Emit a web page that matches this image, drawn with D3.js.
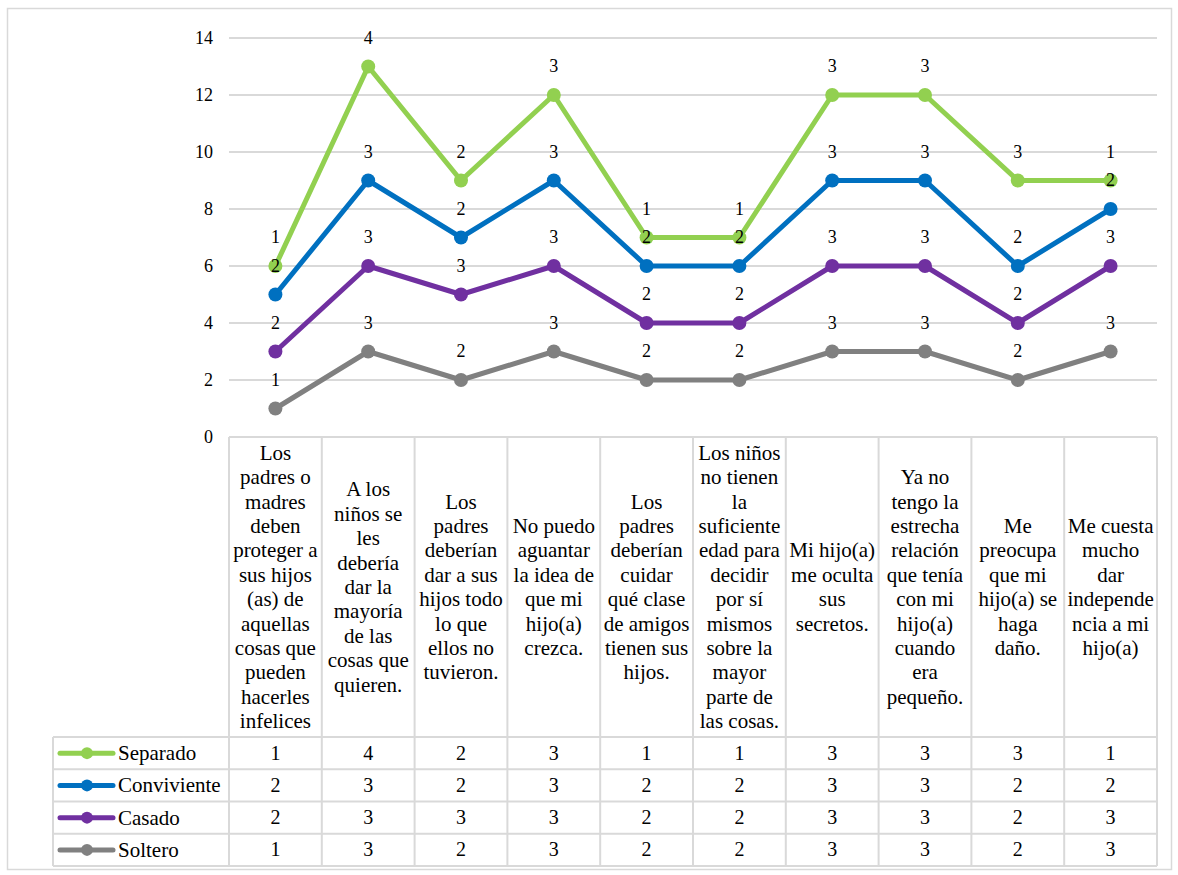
<!DOCTYPE html>
<html>
<head>
<meta charset="utf-8">
<script src="https://cdn.jsdelivr.net/npm/d3@7"></script>
<style>
  html, body { margin: 0; padding: 0; background: #fff; }
  svg { display: block; }
  svg text { font-family: 'Liberation Serif', 'Times New Roman', Times, 'DejaVu Serif', serif; }
</style>
</head>
<body>
<svg id="chart" width="1178" height="875"></svg>
<script>
// Statements (each entry is the wrapped set of lines shown in the header cell)
const categories = [
  ["Los", "padres o", "madres", "deben", "proteger a", "sus hijos", "(as) de", "aquellas", "cosas que", "pueden", "hacerles", "infelices"],
  ["A los", "niños se", "les", "debería", "dar la", "mayoría", "de las", "cosas que", "quieren."],
  ["Los", "padres", "deberían", "dar a sus", "hijos todo", "lo que", "ellos no", "tuvieron."],
  ["No puedo", "aguantar", "la idea de", "que mi", "hijo(a)", "crezca."],
  ["Los", "padres", "deberían", "cuidar", "qué clase", "de amigos", "tienen sus", "hijos."],
  ["Los niños", "no tienen", "la", "suficiente", "edad para", "decidir", "por sí", "mismos", "sobre la", "mayor", "parte de", "las cosas."],
  ["Mi hijo(a)", "me oculta", "sus", "secretos."],
  ["Ya no", "tengo la", "estrecha", "relación", "que tenía", "con mi", "hijo(a)", "cuando", "era", "pequeño."],
  ["Me", "preocupa", "que mi", "hijo(a) se", "haga", "daño."],
  ["Me cuesta", "mucho", "dar", "independe", "ncia a mi", "hijo(a)"]
];

// Series values, stacked from bottom (Soltero) to top (Separado)
const soltero     = [1, 3, 2, 3, 2, 2, 3, 3, 2, 3];
const casado      = [2, 3, 3, 3, 2, 2, 3, 3, 2, 3];
const conviviente = [2, 3, 2, 3, 2, 2, 3, 3, 2, 2];
const separado    = [1, 4, 2, 3, 1, 1, 3, 3, 3, 1];

const seriesNames  = ["Soltero", "Casado", "Conviviente", "Separado"];
const seriesColors = ["#808080", "#7030A0", "#0070C0", "#92D050"];
const yTicks = [0, 2, 4, 6, 8, 10, 12, 14];

const seriesValues = [soltero, casado, conviviente, separado];

const FONT = "'Liberation Serif', 'Times New Roman', Times, serif";
const svg = d3.select("#chart").attr("font-family", FONT);
const gridColor = "#d9d9d9";

// Outer frame
svg.append("rect")
  .attr("x", 7.5).attr("y", 8.5).attr("width", 1164).attr("height", 861)
  .attr("fill", "#fff").attr("stroke", gridColor).attr("stroke-width", 1.5);

const plotLeft = 229, plotRight = 1157, plotTop = 38, plotBottom = 437;
const idx = d3.range(categories.length);

const x = d3.scaleBand().domain(idx).range([plotLeft, plotRight]).padding(0);
const y = d3.scaleLinear().domain([0, 14]).range([plotBottom, plotTop]);

// Stack the series
const stackInput = idx.map(i => {
  const o = {};
  seriesNames.forEach((n, s) => { o[n] = seriesValues[s][i]; });
  return o;
});
const stacked = d3.stack().keys(seriesNames)(stackInput);

// Horizontal gridlines
svg.append("g")
  .selectAll("line")
  .data(yTicks.filter(t => t > 0))
  .join("line")
  .attr("x1", plotLeft).attr("x2", plotRight)
  .attr("y1", d => y(d)).attr("y2", d => y(d))
  .attr("stroke", gridColor).attr("stroke-width", 2);

// Y axis labels
const yAxis = d3.axisLeft(y).tickValues(yTicks).tickSize(0).tickPadding(0);
const yg = svg.append("g").attr("transform", `translate(${plotLeft - 16},0)`).call(yAxis);
yg.attr("font-family", FONT).attr("font-size", 18);
yg.select(".domain").remove();
yg.selectAll("text").attr("fill", "#000");

// Lines and markers
const line = d3.line()
  .x((d, i) => x(i) + x.bandwidth() / 2)
  .y(d => y(d[1]));

const layerOrder = [3, 2, 1, 0];
layerOrder.forEach(s => {
  const layer = stacked[s];
  const g = svg.append("g");
  g.append("path")
    .datum(layer)
    .attr("d", line)
    .attr("fill", "none")
    .attr("stroke", seriesColors[s])
    .attr("stroke-width", 5)
    .attr("stroke-linejoin", "round");
  g.selectAll("circle")
    .data(layer)
    .join("circle")
    .attr("cx", (d, i) => x(i) + x.bandwidth() / 2)
    .attr("cy", d => y(d[1]))
    .attr("r", 7)
    .attr("fill", seriesColors[s]);
});

// Data labels (the individual value of each series, above its point)
layerOrder.forEach(s => {
  svg.append("g")
    .selectAll("text")
    .data(stacked[s])
    .join("text")
    .attr("x", (d, i) => x(i) + x.bandwidth() / 2)
    .attr("y", d => y(d[1]) - 29)
    .attr("dy", "0.35em")
    .attr("text-anchor", "middle")
    .attr("font-size", 18)
    .attr("fill", "#000")
    .text((d, i) => seriesValues[s][i]);
});

// Data table
const headerTop = plotBottom, headerBottom = 737;
const rowH = 32.25;
const legendLeft = 53;
const tableBottom = headerBottom + rowH * 4;

const tg = svg.append("g");
// Column separators
const colEdges = idx.map(i => x(i)).concat([plotRight]);
tg.selectAll("line.col")
  .data(colEdges)
  .join("line")
  .attr("class", "col")
  .attr("x1", d => d).attr("x2", d => d)
  .attr("y1", headerTop).attr("y2", tableBottom)
  .attr("stroke", gridColor).attr("stroke-width", 2);
// Header top line
tg.append("line")
  .attr("x1", plotLeft).attr("x2", plotRight)
  .attr("y1", headerTop).attr("y2", headerTop)
  .attr("stroke", gridColor).attr("stroke-width", 2);
// Row lines
tg.selectAll("line.row")
  .data(d3.range(5))
  .join("line")
  .attr("class", "row")
  .attr("x1", legendLeft).attr("x2", plotRight)
  .attr("y1", r => headerBottom + r * rowH).attr("y2", r => headerBottom + r * rowH)
  .attr("stroke", gridColor).attr("stroke-width", 2);
// Left border of legend column
tg.append("line")
  .attr("x1", legendLeft).attr("x2", legendLeft)
  .attr("y1", headerBottom).attr("y2", tableBottom)
  .attr("stroke", gridColor).attr("stroke-width", 2);

// Header category texts (vertically centred)
const lineH = 24.4;
const headerMid = (headerTop + headerBottom) / 2;
categories.forEach((lines, i) => {
  const cx = x(i) + x.bandwidth() / 2;
  const startY = headerMid - (lines.length - 1) * lineH / 2;
  const t = tg.append("text")
    .attr("text-anchor", "middle")
    .attr("font-size", 21)
    .attr("fill", "#000");
  t.selectAll("tspan")
    .data(lines)
    .join("tspan")
    .attr("x", cx)
    .attr("y", (d, k) => startY + k * lineH)
    .attr("dy", "0.33em")
    .text(d => d);
});

// Table rows: Separado, Conviviente, Casado, Soltero
const rowOrder = [3, 2, 1, 0];
rowOrder.forEach((s, r) => {
  const cy = headerBottom + r * rowH + rowH / 2;
  // legend sample
  tg.append("line")
    .attr("x1", 60).attr("x2", 113).attr("y1", cy).attr("y2", cy)
    .attr("stroke", seriesColors[s]).attr("stroke-width", 5).attr("stroke-linecap", "round");
  tg.append("circle").attr("cx", 87).attr("cy", cy).attr("r", 6).attr("fill", seriesColors[s]);
  tg.append("text")
    .attr("x", 118).attr("y", cy).attr("dy", "0.33em")
    .attr("font-size", 21).attr("fill", "#000")
    .text(seriesNames[s]);
  tg.append("g").selectAll("text")
    .data(seriesValues[s])
    .join("text")
    .attr("x", (d, i) => x(i) + x.bandwidth() / 2)
    .attr("y", cy).attr("dy", "0.33em")
    .attr("text-anchor", "middle")
    .attr("font-size", 20).attr("fill", "#000")
    .text(d => d);
});
</script>
</body>
</html>
